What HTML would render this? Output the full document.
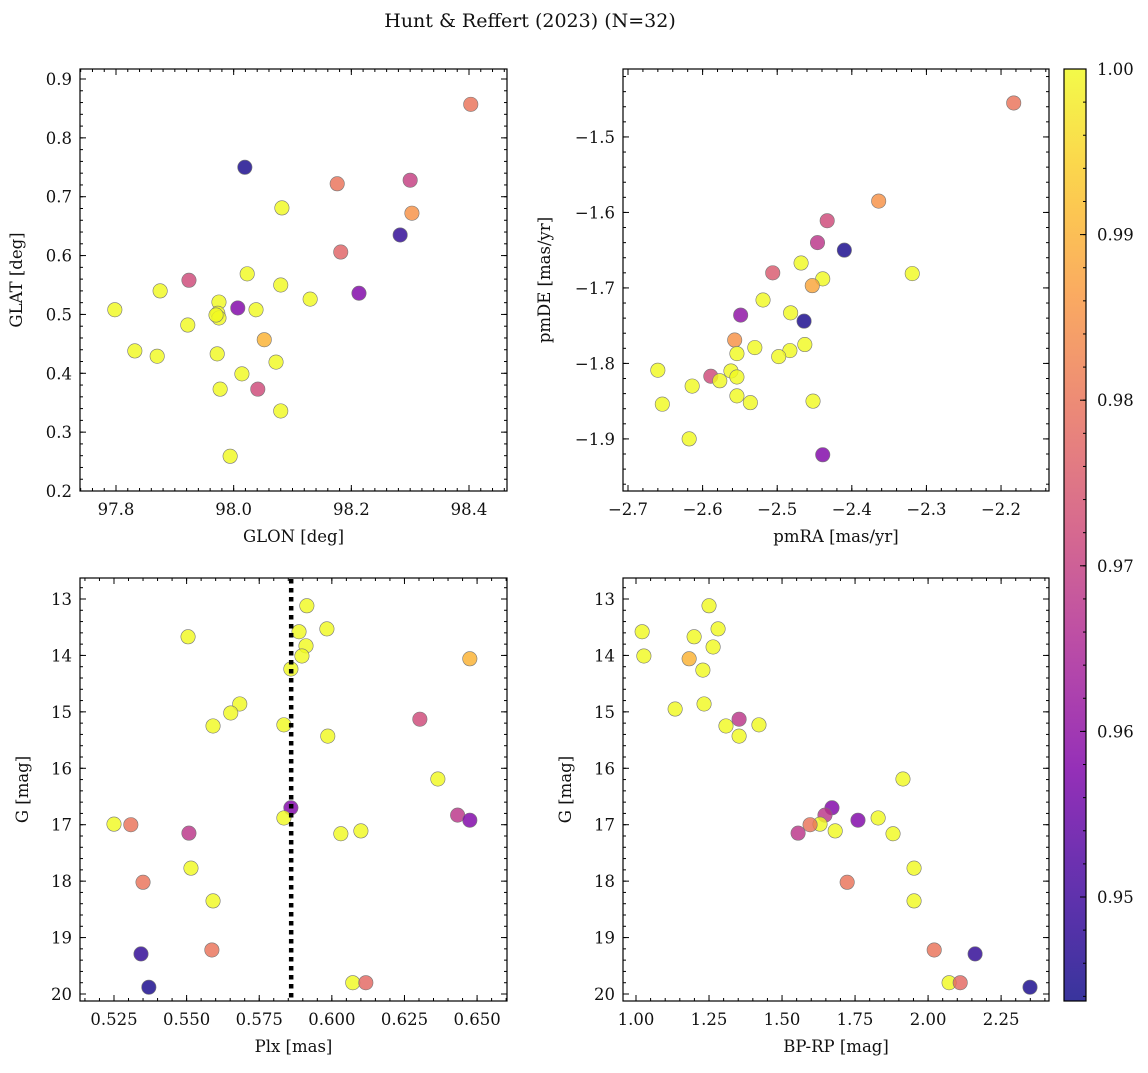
<!DOCTYPE html>
<html><head><meta charset="utf-8">
<style>
body{margin:0;background:#fff;}
svg text{font-family:"DejaVu Serif","Liberation Serif",serif;fill:#111;}
</style></head>
<body>
<svg id="fig" width="1148" height="1068" xmlns="http://www.w3.org/2000/svg">
<text x="530" y="27" font-size="19" text-anchor="middle">Hunt &amp; Reffert (2023) (N=32)</text>
</svg>
<script>
// Panel 1: GLON vs GLAT
const glon=[98.403,98.019,98.176,98.300,98.303,98.082,98.283,98.182,98.023,97.924,98.080,97.875,98.213,98.130,97.975,98.007,97.798,98.038,97.973,97.975,97.922,98.052,97.832,97.870,97.972,98.072,98.014,97.977,98.041,98.080,97.994,97.970];
const glat=[0.857,0.750,0.722,0.728,0.672,0.681,0.635,0.606,0.569,0.558,0.550,0.540,0.536,0.526,0.521,0.511,0.508,0.508,0.502,0.494,0.482,0.457,0.438,0.429,0.433,0.419,0.399,0.373,0.373,0.336,0.259,0.499];
const prob1=[0.98,0.945,0.98,0.97,0.985,1,0.948,0.977,1,0.972,1,1,0.958,1,1,0.958,1,1,1,1,1,0.99,1,1,1,1,1,1,0.972,1,1,1];
// Panel 2: pmRA vs pmDE
const pmra=[-2.183,-2.364,-2.433,-2.446,-2.410,-2.319,-2.468,-2.506,-2.439,-2.453,-2.519,-2.482,-2.549,-2.464,-2.557,-2.463,-2.530,-2.483,-2.554,-2.498,-2.660,-2.562,-2.589,-2.554,-2.577,-2.614,-2.554,-2.654,-2.536,-2.452,-2.618,-2.439];
const pmde=[-1.455,-1.585,-1.611,-1.640,-1.650,-1.681,-1.667,-1.680,-1.688,-1.697,-1.716,-1.733,-1.736,-1.744,-1.769,-1.775,-1.779,-1.783,-1.787,-1.791,-1.809,-1.810,-1.817,-1.818,-1.823,-1.830,-1.843,-1.854,-1.852,-1.850,-1.900,-1.921];
const prob2=[0.98,0.985,0.972,0.968,0.945,1,1,0.975,1,0.988,1,1,0.96,0.945,0.985,1,1,1,1,1,1,1,0.972,1,1,1,1,1,1,1,1,0.958];
// Panel 3: Plx vs G
const plx=[0.5914,0.5983,0.5887,0.5911,0.5897,0.5859,0.5505,0.6475,0.5683,0.5652,0.5835,0.5591,0.5986,0.6303,0.6365,0.5859,0.5835,0.6433,0.6475,0.525,0.5308,0.5508,0.6031,0.6100,0.5515,0.5350,0.5591,0.5343,0.5587,0.6072,0.6117,0.5370];
const gmag3=[13.12,13.53,13.58,13.83,14.01,14.24,13.67,14.06,14.86,15.02,15.23,15.25,15.43,15.13,16.19,16.70,16.88,16.83,16.92,16.99,17.00,17.15,17.16,17.11,17.77,18.02,18.35,19.29,19.22,19.80,19.80,19.88];
const prob3=[1,1,1,1,1,1,1,0.99,1,1,1,1,1,0.972,1,0.958,1,0.968,0.958,1,0.98,0.968,1,1,1,0.98,1,0.948,0.98,1,0.978,0.945];
const plxLine=[0.586];
// Panel 4: BP-RP vs G
const bprp=[1.250,1.021,1.281,1.199,1.264,1.027,1.182,1.229,1.134,1.233,1.308,1.353,1.421,1.353,1.914,1.671,1.829,1.647,1.760,1.630,1.596,1.555,1.880,1.682,1.952,1.723,1.952,2.161,2.021,2.072,2.110,2.349];
const gmag4=[13.12,13.58,13.53,13.67,13.85,14.01,14.06,14.26,14.95,14.86,15.25,15.13,15.23,15.43,16.19,16.70,16.88,16.83,16.92,16.99,17.00,17.15,17.16,17.11,17.77,18.02,18.35,19.29,19.22,19.80,19.80,19.88];
const prob4=[1,1,1,1,1,1,0.99,1,1,1,1,0.968,1,1,1,0.958,1,0.968,0.958,1,0.98,0.968,1,1,1,0.98,1,0.948,0.98,1,0.978,0.945];
const cbTicks=[0.95,0.96,0.97,0.98,0.99,1.00];

const NS="http://www.w3.org/2000/svg";
const svg=document.getElementById('fig');
const VMIN=0.94372,VMAX=1.0;
const FS=16.5;
const stops=[[0,[13,8,135]],[0.125,[65,4,157]],[0.25,[126,3,168]],[0.375,[170,35,149]],[0.5,[204,71,120]],[0.625,[230,108,92]],[0.75,[248,149,64]],[0.875,[252,197,38]],[1,[240,249,33]]];
function plasma(t){t=Math.max(0,Math.min(1,t));for(let i=1;i<stops.length;i++){if(t<=stops[i][0]){const a=stops[i-1],b=stops[i];const f=(t-a[0])/(b[0]-a[0]);const c=a[1].map((v,k)=>Math.round(v+(b[1][k]-v)*f));return `rgb(${c})`;}}return 'rgb(240,249,33)';}
function mk(tag,attrs,parent){const e=document.createElementNS(NS,tag);for(const k in attrs)e.setAttribute(k,attrs[k]);(parent||svg).appendChild(e);return e;}
function fmt(v,d){let s=v.toFixed(d);return s.replace('-','\u2212');}

function panel(name,box,xr,yr,xt,yt,xmin,ymin,xd,yd,xlab,ylab,xs,ys,cs,invertY){
  const [L,T,R,B]=box;
  const g=mk('g',{});
  
  
  const X=v=>L+(v-xr[0])/(xr[1]-xr[0])*(R-L);
  const Y=invertY?(v=>T+(v-yr[0])/(yr[1]-yr[0])*(B-T)):(v=>B-(v-yr[0])/(yr[1]-yr[0])*(B-T));
  for(let i=0;i<xs.length;i++){
    const c=mk('circle',{cx:X(xs[i]),cy:Y(ys[i]),r:7.2,fill:plasma((cs[i]-VMIN)/(VMAX-VMIN)),'fill-opacity':0.82,stroke:'#777','stroke-width':0.6},g);
    
    
  }
  const f=mk('rect',{x:L,y:T,width:R-L,height:B-T,fill:'none',stroke:'#000','stroke-width':1.2},g);
  
  
  const tk=mk('g',{stroke:'#000','stroke-width':1},g);
  const xlo=Math.min(...xr),xhi=Math.max(...xr),ylo=Math.min(...yr),yhi=Math.max(...yr);
  for(let v=Math.ceil(xlo/xmin-1e-6)*xmin;v<=xhi+1e-9;v+=xmin){const x=X(v);mk('line',{x1:x,y1:B,x2:x,y2:B-3},tk);mk('line',{x1:x,y1:T,x2:x,y2:T+3},tk);}
  for(let v=Math.ceil(ylo/ymin-1e-6)*ymin;v<=yhi+1e-9;v+=ymin){const y=Y(v);mk('line',{x1:L,y1:y,x2:L+3,y2:y},tk);mk('line',{x1:R,y1:y,x2:R-3,y2:y},tk);}
  xt.forEach(v=>{const x=X(v);mk('line',{x1:x,y1:B,x2:x,y2:B-6},tk);mk('line',{x1:x,y1:T,x2:x,y2:T+6},tk);
    const t=mk('text',{x:x,y:B+24,'font-size':FS,'text-anchor':'middle'},g);t.textContent=fmt(v,xd);
    });
  yt.forEach(v=>{const y=Y(v);mk('line',{x1:L,y1:y,x2:L+6,y2:y},tk);mk('line',{x1:R,y1:y,x2:R-6,y2:y},tk);
    const t=mk('text',{x:L-8,y:y+6,'font-size':FS,'text-anchor':'end'},g);t.textContent=fmt(v,yd);
    });
  const xl=mk('text',{x:(L+R)/2,y:B+51,'font-size':FS,'text-anchor':'middle'},g);xl.textContent=xlab;
  
  const lx=ylab.x;
  const yl=mk('text',{x:lx,y:(T+B)/2,'font-size':FS,'text-anchor':'middle',transform:`rotate(-90 ${lx} ${(T+B)/2})`},g);yl.textContent=ylab.t;
  
  return {X,Y,g};
}

panel('glon-glat-panel',[80,69,507,491],[97.7388,98.4646],[0.2,0.917],[97.8,98.0,98.2,98.4],[0.2,0.3,0.4,0.5,0.6,0.7,0.8,0.9],0.02,0.02,1,1,'GLON [deg]',{x:22,t:'GLAT [deg]'},glon,glat,prob1,false);
panel('pm-panel',[623,69,1049,491],[-2.7067,-2.1357],[-1.969,-1.41],[-2.7,-2.6,-2.5,-2.4,-2.3,-2.2],[-1.9,-1.8,-1.7,-1.6,-1.5],0.02,0.02,1,1,'pmRA [mas/yr]',{x:550,t:'pmDE [mas/yr]'},pmra,pmde,prob2,false);
const p3=panel('plx-g-panel',[80,578,507,1001],[0.5133,0.6603],[12.628,20.124],[0.525,0.55,0.575,0.6,0.625,0.65],[13,14,15,16,17,18,19,20],0.005,0.2,3,0,'Plx [mas]',{x:28,t:'G [mag]'},plx,gmag3,prob3,true);
plxLine.forEach(v=>{const l=mk('line',{x1:p3.X(v),y1:579,x2:p3.X(v),y2:1000,stroke:'#000','stroke-width':4.5,'stroke-dasharray':'4.5 4.5'},p3.g);
  });
panel('color-g-panel',[623,578,1049,1001],[0.9555,2.414],[12.628,20.124],[1.0,1.25,1.5,1.75,2.0,2.25],[13,14,15,16,17,18,19,20],0.05,0.2,2,0,'BP-RP [mag]',{x:571,t:'G [mag]'},bprp,gmag4,prob4,true);

const cb=mk('g',{});


const defs=mk('defs',{},cb);
const lg=mk('linearGradient',{id:'pl',x1:0,y1:1,x2:0,y2:0},defs);
for(let i=0;i<=20;i++)mk('stop',{offset:i/20,'stop-color':plasma(i/20),'stop-opacity':0.82},lg);
const CT=69,CB=1001,CL=1064,CR=1086;
mk('rect',{x:CL,y:CT,width:CR-CL,height:CB-CT,fill:'url(#pl)',stroke:'#000','stroke-width':1.2},cb);
const CY=v=>CB-(v-VMIN)/(VMAX-VMIN)*(CB-CT);
for(let v=0.944;v<=1.0001;v+=0.002){mk('line',{x1:CR,y1:CY(v),x2:CR-3,y2:CY(v),stroke:'#000'},cb);}
cbTicks.forEach(v=>{mk('line',{x1:CR,y1:CY(v),x2:CR-6,y2:CY(v),stroke:'#000'},cb);
  const t=mk('text',{x:CR+11,y:CY(v)+6,'font-size':FS},cb);t.textContent=v.toFixed(2);
  });
</script>
</body></html>
